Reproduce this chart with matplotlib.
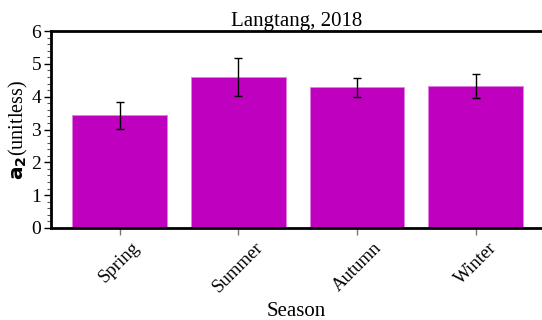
import matplotlib
matplotlib.use("Agg")
import matplotlib.pyplot as plt
from matplotlib.ticker import MultipleLocator

# values
seasons = ["Spring", "Summer", "Autumn", "Winter"]
a2_mean = [3.44, 4.60, 4.28, 4.33]
a2_err = [0.41, 0.57, 0.30, 0.36]

plt.rcParams["font.family"] = ["Liberation Serif", "DejaVu Serif"]
plt.rcParams["mathtext.fontset"] = "dejavusans"

fig = plt.figure(figsize=(5.42, 3.2), dpi=100)
ax = fig.add_axes([51 / 542, 1 - 228 / 320, 1 - 51 / 542, 197 / 320])

x = range(len(seasons))
ax.bar(x, a2_mean, width=0.8, color="m", edgecolor="#e080e0", linewidth=0.6,
       yerr=a2_err, error_kw=dict(ecolor="black", elinewidth=1.0, capsize=3, capthick=1.0))

ax.set_xlim(-0.58, 3.56)
ax.set_ylim(0, 6)
ax.set_xticks(list(x))
ax.set_xticklabels(seasons, rotation=45, fontsize=13.5)
ax.yaxis.set_major_locator(MultipleLocator(1))
ax.yaxis.set_minor_locator(MultipleLocator(0.2))
ax.tick_params(axis="y", which="major", labelsize=14, length=5, width=1, direction="out", pad=2)
ax.tick_params(axis="y", which="minor", length=3, width=0.8, color="#555555")
ax.tick_params(axis="x", length=5, width=1, color="#777777", labelsize=13.5, pad=3)

for side in ["left", "bottom", "top"]:
    ax.spines[side].set_linewidth(2)
    ax.spines[side].set_color("black")
ax.spines["right"].set_visible(False)

ax.set_title("Langtang, 2018", fontsize=15, pad=3)
ax.set_xlabel("Season", fontsize=15, labelpad=4)
ax.set_ylabel(r"$\mathbf{a_2}$(unitless)", fontsize=14.5, labelpad=1)

fig.savefig("out.png", dpi=100)
